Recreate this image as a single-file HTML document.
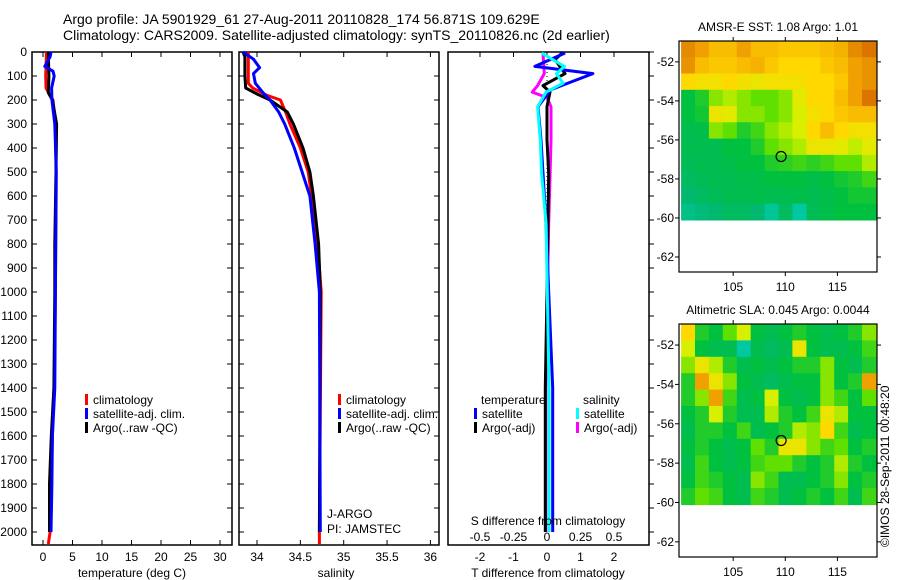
<!DOCTYPE html>
<html><head><meta charset="utf-8"><style>
html,body{margin:0;padding:0;background:#fff;}
svg{display:block;font-family:"Liberation Sans",sans-serif;}
</style></head><body>
<svg id="fig" width="900" height="580" viewBox="0 0 900 580"></svg>
<script>
// ---------- data ----------
const depthTicks=[0,100,200,300,400,500,600,700,800,900,1000,1100,1200,1300,1400,1500,1600,1700,1800,1900,2000];
const tempTicks=[0,5,10,15,20,25,30];
const salTicks=[34,34.5,35,35.5,36];
const salTickLabels=["34","34.5","35","35.5","36"];
const tdiffTicks=[-2,-1,0,1,2];
const sdiffTicks=[-0.5,-0.25,0,0.25,0.5];
const sdiffTickLabels=["-0.5","-0.25","0","0.25","0.5"];

const tClimDepth=[0,100,150,180,200,300,500,1000,1400,1500,2000,2050];
const tClimVal=[0.6,0.45,0.5,1.2,1.7,2.1,2.2,2.1,1.9,1.7,1.2,0.9];
const tSatDepth=[0,20,60,80,100,150,200,300,500,1000,1400,1600,1800,2000];
const tSatVal=[1.35,1.2,0.3,1.7,1.9,1.45,1.5,2.0,2.25,2.1,2.0,1.6,1.5,1.35];
const tArgoDepth=[0,100,170,200,300,500,800,1000,1400,1600,1800,2000];
const tArgoVal=[0.9,1.0,0.9,1.6,2.3,2.2,2.0,2.0,1.85,1.4,1.1,1.1];

const sClimDepth=[0,130,150,180,200,250,300,400,500,600,800,1000,2000,2050];
const sClimVal=[33.9,33.9,33.95,34.11,34.27,34.33,34.38,34.5,34.59,34.63,34.7,34.74,34.72,34.72];
const sSatDepth=[0,30,65,90,130,170,200,250,300,400,500,600,800,1000,2000];
const sSatVal=[33.84,33.96,34.03,33.96,33.98,34.07,34.15,34.25,34.32,34.43,34.52,34.61,34.67,34.72,34.73];
const sArgoDepth=[0,20,100,150,175,200,250,300,400,500,600,800,1000,2000];
const sArgoVal=[33.84,33.86,33.86,33.87,34.0,34.15,34.35,34.42,34.53,34.61,34.65,34.71,34.73,34.72];

const dTSatDepth=[4,60,90,158,228,367,506,715,1000,1400,2000];
const dTSatVal=[0.54,-0.36,1.37,0.1,-0.27,-0.18,-0.12,-0.03,0.05,0.17,0.17];
const dTArgoDepth=[4,32,90,140,167,228,367,506,1000,1400,2000];
const dTArgoVal=[0.45,0.24,0.54,-0.12,0.09,0,0,0.05,0,-0.05,-0.05];
const dSSatDepth=[4,60,90,130,167,228,367,506,715,1400,2000];
const dSSatVal=[-0.04,0.13,0.07,0.12,-0.007,-0.07,-0.05,-0.04,-0.007,0.015,0.015];
const dSArgoDepth=[4,90,140,167,190,228,367,715,1400,2000];
const dSArgoVal=[-0.03,-0.02,-0.07,-0.11,0,0.03,0.03,0.013,-0.01,-0.01];

const mapLonTicks=[105,110,115];
const mapLatTicks=[-52,-54,-56,-58,-60,-62];
const argoLon=109.6, argoLat=-56.85;
const sstGrid=[
[0.9,0.85,0.8,0.8,0.85,0.8,0.8,0.78,0.78,0.78,0.8,0.82,0.9,0.95],
[0.88,0.8,0.78,0.78,0.8,0.82,0.78,0.75,0.75,0.75,0.78,0.8,0.85,0.88],
[0.75,0.72,0.72,0.75,0.72,0.7,0.72,0.72,0.72,0.75,0.75,0.78,0.85,0.88],
[0.35,0.4,0.55,0.6,0.55,0.5,0.5,0.55,0.68,0.75,0.75,0.8,0.85,0.95],
[0.35,0.38,0.7,0.68,0.55,0.55,0.5,0.55,0.65,0.72,0.75,0.78,0.8,0.8],
[0.3,0.32,0.55,0.5,0.4,0.45,0.55,0.6,0.65,0.75,0.8,0.75,0.72,0.72],
[0.3,0.3,0.3,0.35,0.35,0.4,0.5,0.55,0.6,0.7,0.7,0.68,0.62,0.68],
[0.28,0.3,0.3,0.32,0.35,0.35,0.4,0.42,0.45,0.42,0.45,0.5,0.5,0.6],
[0.25,0.28,0.3,0.3,0.32,0.32,0.35,0.35,0.35,0.32,0.35,0.38,0.4,0.45],
[0.2,0.25,0.28,0.3,0.3,0.32,0.3,0.3,0.32,0.3,0.32,0.35,0.38,0.38],
[0.15,0.18,0.2,0.25,0.25,0.2,0.12,0.25,0.1,0.28,0.32,0.35,0.35,0.35]];
const slaGrid=[
[0.75,0.4,0.35,0.5,0.65,0.35,0.3,0.35,0.4,0.35,0.3,0.35,0.4,0.55],
[0.65,0.35,0.3,0.3,0.1,0.3,0.25,0.3,0.7,0.35,0.3,0.3,0.35,0.45],
[0.55,0.7,0.6,0.4,0.3,0.35,0.3,0.35,0.4,0.4,0.55,0.35,0.3,0.4],
[0.4,0.85,0.7,0.55,0.35,0.3,0.25,0.3,0.35,0.35,0.55,0.35,0.4,0.85],
[0.4,0.55,0.85,0.45,0.3,0.35,0.65,0.35,0.3,0.35,0.55,0.45,0.35,0.5],
[0.35,0.4,0.65,0.4,0.3,0.3,0.6,0.4,0.35,0.45,0.7,0.6,0.35,0.35],
[0.3,0.4,0.4,0.35,0.45,0.3,0.35,0.4,0.6,0.55,0.75,0.45,0.3,0.35],
[0.35,0.4,0.35,0.3,0.35,0.5,0.4,0.7,0.7,0.55,0.45,0.5,0.35,0.4],
[0.3,0.45,0.35,0.3,0.35,0.45,0.5,0.5,0.4,0.35,0.4,0.6,0.4,0.35],
[0.35,0.45,0.4,0.35,0.3,0.55,0.45,0.3,0.3,0.35,0.4,0.55,0.35,0.4],
[0.4,0.5,0.45,0.35,0.3,0.45,0.4,0.3,0.35,0.4,0.35,0.45,0.3,0.45]];

// ---------- helpers ----------
const NS="http://www.w3.org/2000/svg";
const svg=document.getElementById('fig');
function el(tag,attrs,parent){const e=document.createElementNS(NS,tag);for(const k in attrs)e.setAttribute(k,attrs[k]);(parent||svg).appendChild(e);return e;}
function txt(x,y,s,anchor,size,parent){const t=el('text',{x:x,y:y,'text-anchor':anchor||'start','font-size':size||12,fill:'#000'},parent);t.textContent=s;return t;}

const TOP=52, BOT=545;
const yDepth=d=>TOP+d*0.24;
const xTemp=v=>43+v*5.9;
const xSal=v=>257+(v-34)*86.7;
const xTd=v=>547+v*33.5;
const xSd=v=>547+v*134;

function panel(x0,x1,name,rightOutside){
  const g=el('g',{});
  
  
  el('rect',{x:x0,y:TOP,width:x1-x0,height:BOT-TOP,fill:'none',stroke:'#000','stroke-width':1.5},g);
  depthTicks.forEach(d=>{
    const y=yDepth(d);
    if(!rightOutside){el('line',{x1:x0,y1:y,x2:x0+5,y2:y,stroke:'#000'},g);el('line',{x1:x1-5,y1:y,x2:x1,y2:y,stroke:'#000'},g);}
    else{el('line',{x1:x1,y1:y,x2:x1+5,y2:y,stroke:'#000'},g);}
  });
  return g;
}
function series(g,xs,depths,vals,color,name,w){
  let d='';
  for(let i=0;i<vals.length;i++){d+=(i?'L':'M')+xs(vals[i]).toFixed(1)+' '+yDepth(depths[i]).toFixed(1);}
  const p=el('path',{d:d,fill:'none',stroke:color,'stroke-width':w||3,'stroke-linejoin':'round'},g);
  
  
}
function xticks(g,ticks,labels,xs,y,x0,x1){
  ticks.forEach((t,i)=>{const x=xs(t);
    el('line',{x1:x,y1:BOT,x2:x,y2:BOT-5,stroke:'#000'},g);
    el('line',{x1:x,y1:TOP,x2:x,y2:TOP+5,stroke:'#000'},g);
    txt(x,y,labels?labels[i]:String(t),'middle',12,g);});
}
function legendRow(g,x,y,color,label,name){
  const r=el('rect',{x:x,y:y-10,width:3,height:11,fill:color},g);
  const t=txt(x+8,y,label,'start',12,g);
  
  
}

// title
const t1=txt(63,24,'Argo profile: JA 5901929_61 27-Aug-2011 20110828_174 56.871S 109.629E','start',14);


const t2=txt(63,40,'Climatology: CARS2009. Satellite-adjusted climatology: synTS_20110826.nc (2d earlier)','start',14);



// depth labels
depthTicks.forEach(d=>{const t=txt(27,yDepth(d)+4,String(d),'end',12);
  
  });

// panel 1 temperature
const p1=panel(32,232,'temperature-panel');
xticks(p1,tempTicks,null,xTemp,561);
series(p1,xTemp,tClimDepth,tClimVal,'#f00','temp-climatology-line');
series(p1,xTemp,tArgoDepth,tArgoVal,'#000','temp-argo-line');
series(p1,xTemp,tSatDepth,tSatVal,'#00f','temp-satellite-line');
legendRow(p1,85,404,'#f00','climatology','legend-climatology');
legendRow(p1,85,418,'#00f','satellite-adj. clim.','legend-satellite');
legendRow(p1,85,432,'#000','Argo(..raw -QC)','legend-argo');
txt(132,577,'temperature (deg C)','middle',12,p1);

// panel 2 salinity
const p2=panel(239,439,'salinity-panel');
xticks(p2,salTicks,salTickLabels,xSal,561);
series(p2,xSal,sClimDepth,sClimVal,'#f00','sal-climatology-line');
series(p2,xSal,sArgoDepth,sArgoVal,'#000','sal-argo-line');
series(p2,xSal,sSatDepth,sSatVal,'#00f','sal-satellite-line');
legendRow(p2,338,404,'#f00','climatology','legend-climatology-2');
legendRow(p2,338,418,'#00f','satellite-adj. clim.','legend-satellite-2');
legendRow(p2,338,432,'#000','Argo(..raw -QC)','legend-argo-2');
txt(327,518,'J-ARGO','start',12,p2);
txt(327,533,'PI: JAMSTEC','start',12,p2);
txt(336,577,'salinity','middle',12,p2);

// panel 3 differences
const p3=panel(448,649,'difference-panel',true);
tdiffTicks.forEach(t=>{const x=xTd(t);el('line',{x1:x,y1:TOP,x2:x,y2:TOP+5,stroke:'#000'},p3);txt(x,561,String(t),'middle',12,p3);});
sdiffTicks.forEach((t,i)=>{txt(xSd(t),541,sdiffTickLabels[i],'middle',12,p3);});
el('line',{x1:547,y1:60,x2:547,y2:300,stroke:'#000','stroke-dasharray':'1 3'},p3);
series(p3,xSd,dSArgoDepth,dSArgoVal,'#f0f','sdiff-argo-line');
series(p3,xTd,dTArgoDepth,dTArgoVal,'#000','tdiff-argo-line');
series(p3,xTd,dTSatDepth,dTSatVal,'#00f','tdiff-satellite-line');
series(p3,xSd,dSSatDepth,dSSatVal,'#0ff','sdiff-satellite-line');
txt(481,404,'temperature','start',12,p3);
txt(583,404,'salinity','start',12,p3);
legendRow(p3,474,418,'#00f','satellite','legend-t-satellite');
legendRow(p3,474,432,'#000','Argo(-adj)','legend-t-argo');
legendRow(p3,576,418,'#0ff','satellite','legend-s-satellite');
legendRow(p3,576,432,'#f0f','Argo(-adj)','legend-s-argo');
txt(548,525,'S difference from climatology','middle',12,p3);
txt(548,577,'T difference from climatology','middle',12,p3);

// maps
const stops=[[0,[0,216,208]],[0.2,[0,184,112]],[0.35,[0,192,64]],[0.5,[96,224,0]],[0.65,[216,240,0]],[0.75,[255,216,0]],[0.85,[240,160,0]],[1,[208,96,0]]];
function cmap(v){for(let i=1;i<stops.length;i++){if(v<=stops[i][0]){const a=stops[i-1],b=stops[i];const f=(v-a[0])/(b[0]-a[0]);
  const c=a[1].map((q,k)=>Math.round(q+(b[1][k]-q)*f));return 'rgb('+c.join(',')+')';}}return 'rgb(208,96,0)';}
function map(top,bottom,grid,title,name){
  const L=679,R=877,lon0=99.8,lon1=118.8,lat0=-50.93,lat1=-62.77;
  const xl=lo=>L+(lo-lon0)/(lon1-lon0)*(R-L);
  const yl=la=>top+(la-lat0)/(lat1-lat0)*(bottom-top);
  const g=el('g',{});
  
  
  const rows=grid.length, cols=grid[0].length;
  const dLeft=xl(100.0), dRight=xl(118.7), dTop=top, dBot=yl(-60.1);
  const cw=(dRight-dLeft)/cols, ch=(dBot-dTop)/rows;
  grid.forEach((row,r)=>row.forEach((v,c)=>{
    const cell=el('rect',{x:(dLeft+c*cw).toFixed(1),y:(dTop+r*ch).toFixed(1),width:(cw+0.6).toFixed(1),height:(ch+0.6).toFixed(1),fill:cmap(v)},g);
    
    
  }));
  el('rect',{x:L,y:top,width:R-L,height:bottom-top,fill:'none',stroke:'#000','stroke-width':1.2},g);
  mapLonTicks.forEach(lo=>{const x=xl(lo);
    el('line',{x1:x,y1:top,x2:x,y2:top-4,stroke:'#000'},g);
    el('line',{x1:x,y1:bottom,x2:x,y2:bottom+4,stroke:'#000'},g);
    txt(x,bottom+19,String(lo),'middle',12,g);});
  mapLatTicks.forEach(la=>{const y=yl(la);
    el('line',{x1:L,y1:y,x2:L-4,y2:y,stroke:'#000'},g);
    el('line',{x1:R,y1:y,x2:R+4,y2:y,stroke:'#000'},g);
    txt(L-5,y+4,String(la),'end',12,g);});
  const c=el('circle',{cx:xl(argoLon),cy:yl(argoLat),r:5,fill:'none',stroke:'#000','stroke-width':1.2},g);
  
  
  const t=txt(778,top-10,title,'middle',12,g);
  
  
}
map(41,272,sstGrid,'AMSR-E SST: 1.08 Argo: 1.01','sst-map');
map(324,557,slaGrid,'Altimetric SLA: 0.045 Argo: 0.0044','sla-map');

const cp=txt(0,0,'©IMOS 28-Sep-2011 00:48:20','start',12);
cp.setAttribute('transform','translate(889,547) rotate(-90)');


</script>
</body></html>
